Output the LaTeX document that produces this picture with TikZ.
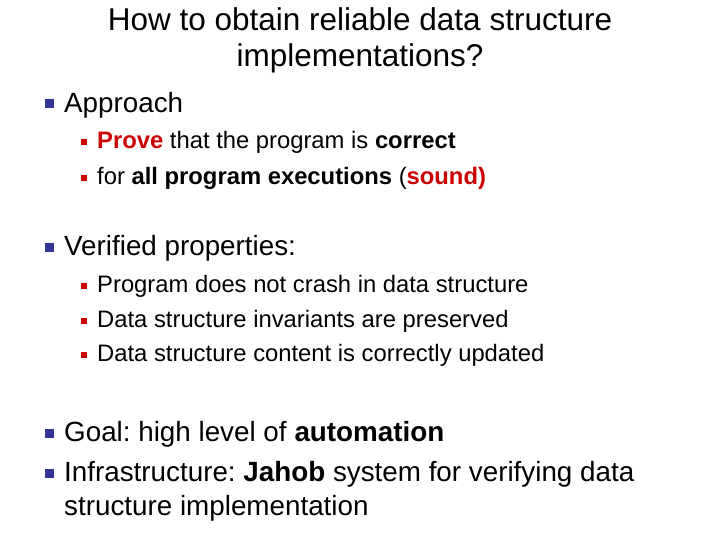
\documentclass[tikz,border=0pt]{standalone}
\usepackage{fontspec}
\setmainfont{Liberation Sans}
\frenchspacing
\definecolor{bblue}{RGB}{51,51,153}
\definecolor{rred}{RGB}{204,0,0}
\begin{document}
\begin{tikzpicture}[x=1pt,y=-1pt,
  t0/.style={font=\fontsize{31.5}{36}\selectfont, align=center},
  t1/.style={anchor=west, inner sep=0, font=\fontsize{27.8}{34}\selectfont},
  t2/.style={anchor=west, inner sep=0, font=\fontsize{23.8}{24}\selectfont},
  b1/.style={fill=bblue, minimum size=9pt, inner sep=0},
  b2/.style={fill=rred, minimum size=6.5pt, inner sep=0}]
\useasboundingbox (0,0) rectangle (720,540);
\node[t0] (title) at (360,40) {How to obtain reliable data structure\\implementations?};
\node[b1] (ba) at (49,104) {}; \node[t1] (a) at (64,105) {Approach};
\node[b2] (ba1) at (84,142) {}; \node[t2] (a1) at (97,142) {\textcolor{rred}{\textbf{Prove}} that the program is \textbf{correct}};
\node[b2] (ba2) at (84,178) {}; \node[t2] (a2) at (97,178) {for \textbf{all program executions} (\textcolor{rred}{\textbf{sound)}}};
\node[b1] (bv) at (49,247) {}; \node[t1] (v) at (64,248) {Verified properties:};
\node[b2] (bv1) at (84,286) {}; \node[t2] (v1) at (97,286) {Program does not crash in data structure};
\node[b2] (bv2) at (84,321) {}; \node[t2] (v2) at (97,321) {Data structure invariants are preserved};
\node[b2] (bv3) at (84,355) {}; \node[t2] (v3) at (97,355) {Data structure content is correctly updated};
\node[b1] (bg) at (49,433) {}; \node[t1] (g) at (64,434) {Goal: high level of \textbf{automation}};
\node[b1] (bi) at (49,473) {}; \node[t1] (i) at (64,474) {Infrastructure: \textbf{Jahob} system for verifying data};
\node[t1] (i2) at (64,508) {structure implementation};
\end{tikzpicture}
\end{document}
